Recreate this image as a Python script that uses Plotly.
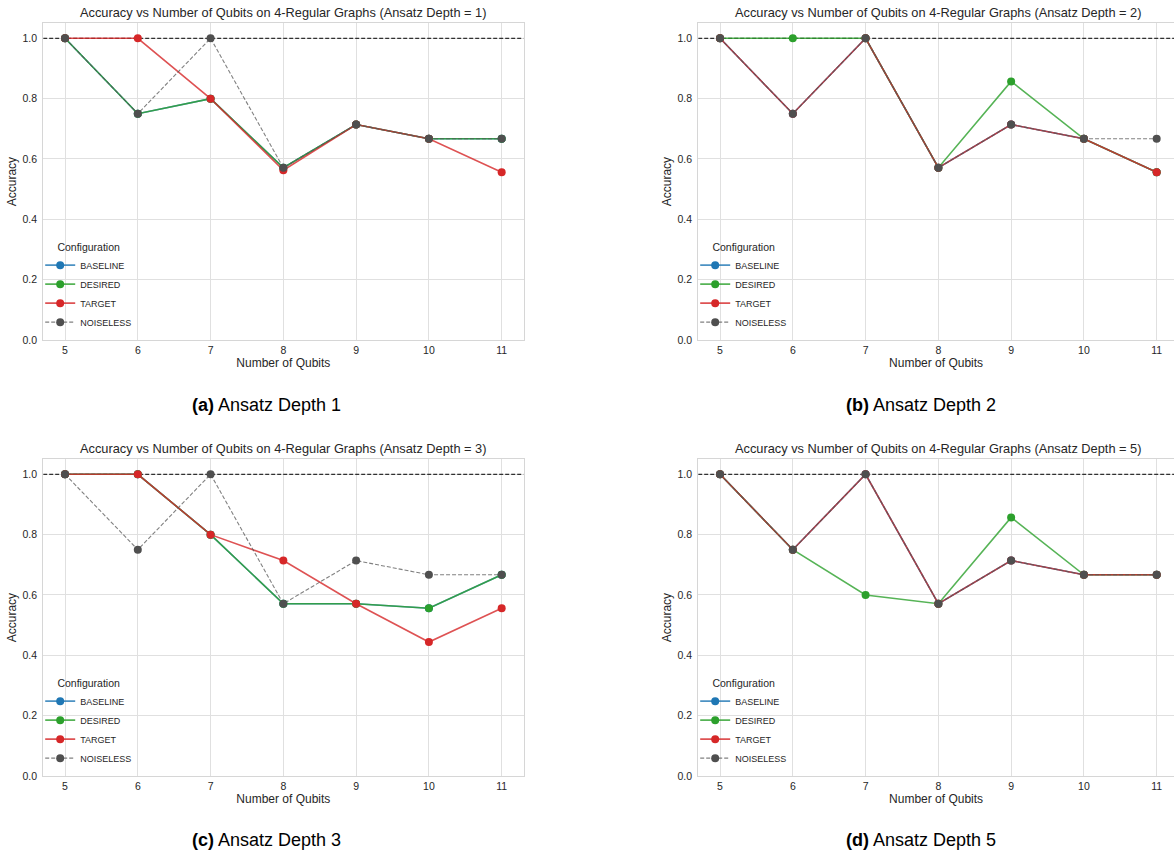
import plotly.graph_objects as go

# ---- data -------------------------------------------------------------
qubits = [5, 6, 7, 8, 9, 10, 11]
y_tick_values = [0.0, 0.2, 0.4, 0.6, 0.8, 1.0]
y_tick_labels = ["0.0", "0.2", "0.4", "0.6", "0.8", "1.0"]

configurations = ["BASELINE", "DESIRED", "TARGET", "NOISELESS"]
depths = [1, 2, 3, 5]
panel_letters = ["a", "b", "c", "d"]

baseline_d1 = [1.0, 0.75, 0.8, 0.571, 0.714, 0.667, 0.667]
desired_d1 = [1.0, 0.75, 0.8, 0.571, 0.714, 0.667, 0.667]
target_d1 = [1.0, 1.0, 0.8, 0.5625, 0.714, 0.667, 0.556]
noiseless_d1 = [1.0, 0.75, 1.0, 0.571, 0.714, 0.667, 0.667]

baseline_d2 = [1.0, 0.75, 1.0, 0.571, 0.714, 0.667, 0.556]
desired_d2 = [1.0, 1.0, 1.0, 0.571, 0.857, 0.667, 0.556]
target_d2 = [1.0, 0.75, 1.0, 0.571, 0.714, 0.667, 0.556]
noiseless_d2 = [1.0, 0.75, 1.0, 0.571, 0.714, 0.667, 0.667]

baseline_d3 = [1.0, 1.0, 0.8, 0.571, 0.571, 0.556, 0.667]
desired_d3 = [1.0, 1.0, 0.8, 0.571, 0.571, 0.556, 0.667]
target_d3 = [1.0, 1.0, 0.8, 0.714, 0.571, 0.444, 0.556]
noiseless_d3 = [1.0, 0.75, 1.0, 0.571, 0.714, 0.667, 0.667]

baseline_d5 = [1.0, 0.75, 1.0, 0.571, 0.714, 0.667, 0.667]
desired_d5 = [1.0, 0.75, 0.6, 0.571, 0.857, 0.667, 0.667]
target_d5 = [1.0, 0.75, 1.0, 0.571, 0.714, 0.667, 0.667]
noiseless_d5 = [1.0, 0.75, 1.0, 0.571, 0.714, 0.667, 0.667]

PERFECT_ACCURACY = 1.0

series_by_depth = [
    [baseline_d1, desired_d1, target_d1, noiseless_d1],
    [baseline_d2, desired_d2, target_d2, noiseless_d2],
    [baseline_d3, desired_d3, target_d3, noiseless_d3],
    [baseline_d5, desired_d5, target_d5, noiseless_d5],
]

# ---- styling ------------------------------------------------------------
W, H = 1174, 854
FONT = "Liberation Sans, Arial, Helvetica, sans-serif"
TEXT = "#262626"

line_colors = {
    "BASELINE": "rgba(31,119,180,0.8)",
    "DESIRED": "rgba(44,160,44,0.8)",
    "TARGET": "rgba(214,39,40,0.8)",
    "NOISELESS": "rgba(85,85,85,0.75)",
}
marker_colors = {
    "BASELINE": "#1f77b4",
    "DESIRED": "#2ca02c",
    "TARGET": "#d62728",
    "NOISELESS": "#4f4f4f",
}

# pixel boxes of each axes: (left, right, top, bottom)
col_px = [(43.2, 523.5), (698.2, 1174.0)]
row_px = [(23.2, 340.0), (459.2, 776.0)]
x_ranges = [[4.7, 11.3], [4.7, 11.238]]
axes_centers_px = [283.4, 938.3]
caption_centers_px = [266.5, 921.0]
title_y_px = [12.0, 448.0]
caption_y_px = [405.0, 840.0]


def px_x(v):
    return v / W


def px_y(v):
    return 1 - v / H


fig = go.Figure()
layout_axes = {}
annotations = []
shapes = []
legends = {}

for i, depth in enumerate(depths):
    r, c = divmod(i, 2)
    n = i + 1
    xname = "x" if n == 1 else f"x{n}"
    yname = "y" if n == 1 else f"y{n}"
    lname = "legend" if n == 1 else f"legend{n}"
    left, right = col_px[c]
    top, bottom = row_px[r]

    for cfg, values in zip(configurations, series_by_depth[i]):
        dashed = cfg == "NOISELESS"
        fig.add_trace(go.Scatter(
            x=qubits, y=values, name=cfg, mode="lines+markers",
            xaxis=xname, yaxis=yname, legend=lname,
            line=dict(color=line_colors[cfg], width=1.1 if dashed else 1.6,
                      dash="4px,2px" if dashed else "solid"),
            marker=dict(color=marker_colors[cfg], size=8, line=dict(width=0)),
            showlegend=True,
        ))

    common = dict(
        showgrid=True, gridcolor="#e0e0e0", gridwidth=1,
        showline=True, linecolor="#d6d6d6", linewidth=1, mirror=True,
        zeroline=False, ticks="outside",
        tickcolor="rgba(0,0,0,0)",
        tickfont=dict(size=10.5, color=TEXT, family=FONT),
        automargin=False, fixedrange=True,
    )
    layout_axes["xaxis" if n == 1 else f"xaxis{n}"] = dict(
        common, domain=[px_x(left), px_x(right)], anchor=yname, ticklen=0,
        range=x_ranges[c], tickmode="array", tickvals=qubits,
        ticktext=[str(q) for q in qubits],
        title=dict(text="Number of Qubits", standoff=3,
                   font=dict(size=12, color=TEXT, family=FONT)),
    )
    layout_axes["yaxis" if n == 1 else f"yaxis{n}"] = dict(
        common, domain=[px_y(bottom), px_y(top)], anchor=xname, ticklen=3,
        range=[0, 1.05], tickmode="array", tickvals=y_tick_values,
        ticktext=y_tick_labels,
        title=dict(text="Accuracy", standoff=3,
                   font=dict(size=12, color=TEXT, family=FONT)),
    )

    # perfect-accuracy reference line spanning the full x range, under the data
    shapes.append(dict(
        type="line", xref=xname, x0=x_ranges[c][0], x1=x_ranges[c][1],
        yref=yname, y0=PERFECT_ACCURACY, y1=PERFECT_ACCURACY,
        line=dict(color="black", width=1, dash="4px,2px"), layer="between",
    ))

    annotations.append(dict(
        text=f"Accuracy vs Number of Qubits on 4-Regular Graphs (Ansatz Depth = {depth})",
        xref="paper", yref="paper", x=px_x(axes_centers_px[c]), y=px_y(title_y_px[r]),
        xanchor="center", yanchor="middle", showarrow=False,
        font=dict(size=12.8, color=TEXT, family=FONT),
    ))
    annotations.append(dict(
        text=f"<b>({panel_letters[i]})</b> Ansatz Depth {depth}",
        xref="paper", yref="paper", x=px_x(caption_centers_px[c]), y=px_y(caption_y_px[r]),
        xanchor="center", yanchor="middle", showarrow=False,
        font=dict(size=18, color="black", family=FONT),
    ))

    legends[lname] = dict(
        x=px_x(left - 3), y=px_y(bottom - 3), xanchor="left", yanchor="bottom",
        bgcolor="rgba(0,0,0,0)", borderwidth=0,
        title=dict(text="Configuration", side="top center",
                   font=dict(size=10.5, color=TEXT, family=FONT)),
        font=dict(size=9, color=TEXT, family=FONT),
        itemclick=False, itemdoubleclick=False, tracegroupgap=0,
    )

fig.update_layout(
    width=W, height=H,
    margin=dict(l=0, r=0, t=0, b=0),
    paper_bgcolor="white", plot_bgcolor="white",
    font=dict(family=FONT, color=TEXT),
    annotations=annotations, shapes=shapes,
    **layout_axes, **legends,
)

fig.write_html("out.html", config={"displayModeBar": False})
